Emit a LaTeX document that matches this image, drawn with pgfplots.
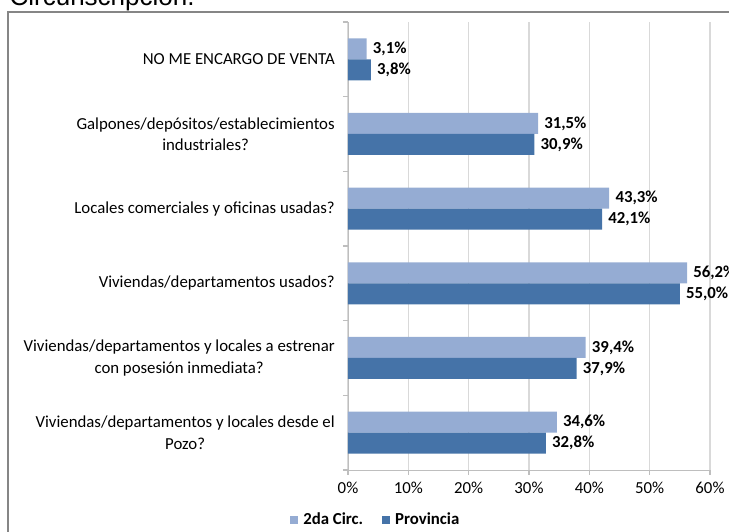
\documentclass[border=0pt]{standalone}
\usepackage{pgfplots}
\pgfplotsset{compat=1.18}
\usepackage{fontspec}
\setmainfont{Carlito}
\newfontfamily\arialfont{Liberation Sans}
\definecolor{lightbar}{RGB}{149,172,211}
\definecolor{darkbar}{RGB}{69,115,168}
\definecolor{gridc}{RGB}{217,217,217}
\definecolor{axc}{RGB}{190,190,190}
\definecolor{framec}{RGB}{134,134,134}
\begin{document}
\begin{tikzpicture}
\path[use as bounding box, clip] (0,0) rectangle (546.75pt,399pt);
\node[anchor=base west, inner sep=0pt, font=\arialfont\fontsize{19.5}{22}\selectfont] at (7pt,394.5pt) {Circunscripción.};
\draw[framec, line width=0.8pt] (6pt,-10pt) -- (6pt,390pt) -- (580pt,390pt);
\begin{axis}[
  at={(261pt,46.5pt)}, anchor=south west,
  scale only axis, width=271.5pt, height=336pt,
  xmin=0, xmax=60, ymin=-0.5, ymax=5.5,
  xbar, bar width=15.75pt,
  axis line style={axc},
  axis x line*=bottom, axis y line*=left,
  xtick={0,10,20,30,40,50,60},
  xticklabels={0\%,10\%,20\%,30\%,40\%,50\%,60\%},
  xmajorgrids, grid style={gridc, line width=0.8pt},
  ytick={0,1,2,3,4,5},
  yticklabels={{Viviendas/departamentos y locales desde el\\Pozo?},
    {Viviendas/departamentos y locales a estrenar\\con posesión inmediata?},
    {Viviendas/departamentos usados?},
    {Locales comerciales y oficinas usadas?},
    {Galpones/depósitos/establecimientos\\industriales?},
    {NO ME ENCARGO DE VENTA}},
  minor ytick={-0.5,0.5,1.5,2.5,3.5,4.5,5.5},
  tick align=outside,
  major tick length=3.75pt, minor tick length=3.75pt,
  y tick style={draw=none}, minor y tick style={draw=axc, line width=0.8pt},
  x tick style={draw=axc, line width=0.8pt},
  tick label style={font=\fontsize{12.6}{16}\selectfont},
  yticklabel style={align=center, anchor=east, inner sep=0pt, xshift=-6pt},
  xticklabel style={anchor=base, inner sep=0pt, yshift=-14pt},
  nodes near coords={\pgfmathprintnumber[fixed,fixed zerofill,precision=1,use comma,assume math mode=true]{\pgfplotspointmeta}\%},
  nodes near coords style={anchor=west, inner sep=0pt, xshift=4.5pt, font=\bfseries\fontsize{12.6}{15}\selectfont},
  legend columns=2,
  legend style={at={(0.0773,-0.111)}, anchor=center, draw=none, fill=none,
    font=\bfseries\fontsize{12.6}{15}\selectfont,
    /tikz/every odd column/.append style={column sep=2pt},
    /tikz/every even column/.append style={column sep=12pt}},
  legend image code/.code={\fill[#1] (0pt,-3pt) rectangle (6pt,3pt);},
  clip=false,
]
\addplot[fill=lightbar, draw=none, bar shift=7.875pt] coordinates {
 (34.6,0) (39.4,1) (56.2,2) (43.3,3) (31.5,4) (3.1,5)};
\addplot[fill=darkbar, draw=none, bar shift=-7.875pt] coordinates {
 (32.8,0) (37.9,1) (55.0,2) (42.1,3) (30.9,4) (3.8,5)};
\legend{2da Circ., Provincia}
\end{axis}
\end{tikzpicture}
\end{document}
